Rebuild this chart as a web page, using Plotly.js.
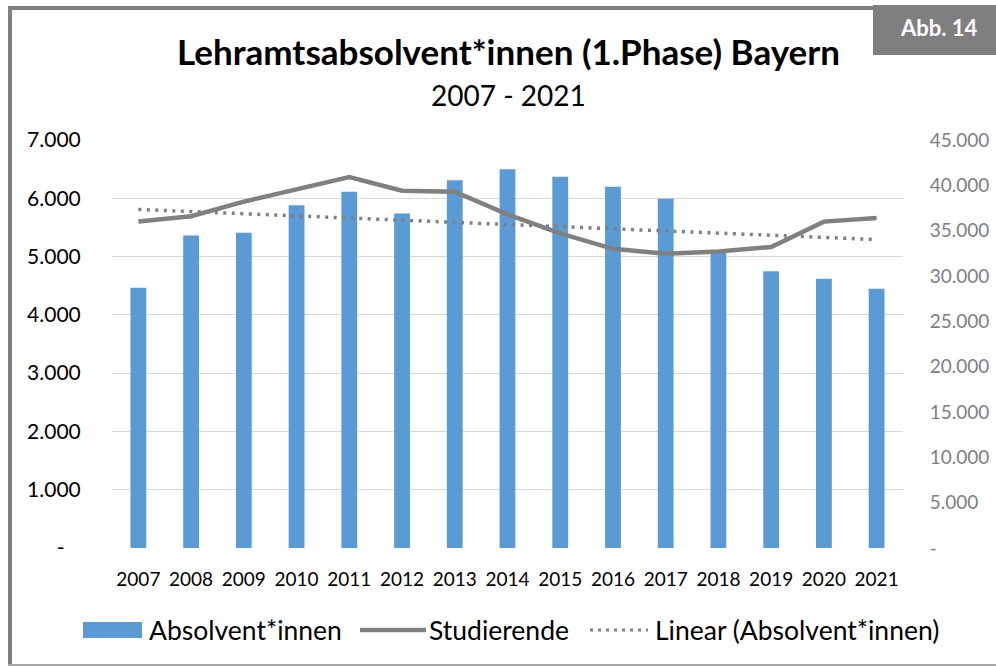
<!DOCTYPE html>
<html>
<head>
<meta charset="utf-8">
<script src="https://cdn.plot.ly/plotly-3.0.1.min.js"></script>
<style>
  html, body { margin: 0; padding: 0; background: #ffffff; }
  #chart { width: 996px; height: 667px; }
</style>
</head>
<body>
<div id="chart"></div>
<script>
// ---------- DATA ----------
const years = ['2007','2008','2009','2010','2011','2012','2013','2014','2015','2016','2017','2018','2019','2020','2021'];
const absolventen = [4465, 5360, 5410, 5880, 6110, 5740, 6310, 6500, 6370, 6200, 5990, 5100, 4750, 4620, 4450];
const studierende = [36000, 36600, 38200, 39600, 40900, 39400, 39300, 36800, 34700, 33000, 32450, 32700, 33200, 36000, 36400];
const leftTickVals = [0, 1000, 2000, 3000, 4000, 5000, 6000, 7000];
const leftTickText = ['-\u00a0\u00a0\u00a0', '1.000', '2.000', '3.000', '4.000', '5.000', '6.000', '7.000'];
const rightTickVals = [0, 5000, 10000, 15000, 20000, 25000, 30000, 35000, 40000, 45000];
const rightTickText = ['-', '5.000', '10.000', '15.000', '20.000', '25.000', '30.000', '35.000', '40.000', '45.000'];
const titleText = 'Lehramtsabsolvent*innen (1.Phase) Bayern';
const subtitleText = '2007 - 2021';
const badgeText = 'Abb. 14';
const legendNames = ['Absolvent*innen', 'Studierende', 'Linear (Absolvent*innen)'];

// ---------- linear trend (Excel-style least squares on the bar series) ----------
const n = absolventen.length;
const xs = absolventen.map((_, i) => i + 1);
const mx = xs.reduce((a, b) => a + b, 0) / n;
const my = absolventen.reduce((a, b) => a + b, 0) / n;
let sxy = 0, sxx = 0;
for (let i = 0; i < n; i++) { sxy += (xs[i] - mx) * (absolventen[i] - my); sxx += (xs[i] - mx) ** 2; }
const slope = sxy / sxx;
const trend = xs.map(x => my + slope * (x - mx));

// ---------- layout helpers ----------
const W = 996, H = 667;
const L = 112, R = 903, T = 140, B = 548;
const PX = x => (x - L) / (R - L);
const PY = y => (B - y) / (B - T);

const FONT = 'Lato, "Open Sans", sans-serif';
const BLUE = '#5b9bd5';
const GRAY = '#808080';

const traces = [
  {
    type: 'bar', x: years, y: absolventen, name: legendNames[0],
    marker: { color: BLUE }, yaxis: 'y', hoverinfo: 'x+y'
  },
  {
    type: 'scatter', mode: 'lines', x: years, y: studierende, name: legendNames[1],
    line: { color: GRAY, width: 4.5 }, yaxis: 'y2'
  },
  {
    type: 'scatter', mode: 'lines', x: years, y: trend, name: legendNames[2],
    line: { color: GRAY, width: 3.5, dash: '3px,5.5px' }, yaxis: 'y'
  }
];

const shapes = [
  // outer frame
  { type: 'line', xref: 'paper', yref: 'paper', x0: PX(10), x1: PX(10), y0: PY(6), y1: PY(666), line: { color: '#7f7f7f', width: 4 } },
  { type: 'line', xref: 'paper', yref: 'paper', x0: PX(8), x1: PX(998), y0: PY(8), y1: PY(8), line: { color: '#7f7f7f', width: 4 } },
  { type: 'line', xref: 'paper', yref: 'paper', x0: PX(8), x1: PX(998), y0: PY(665), y1: PY(665), line: { color: '#a6a6a6', width: 2 } },
  // badge box
  { type: 'rect', xref: 'paper', yref: 'paper', x0: PX(873), x1: PX(998), y0: PY(5), y1: PY(55), fillcolor: '#7f7f7f', line: { width: 0 } },
  // legend swatches
  { type: 'rect', xref: 'paper', yref: 'paper', x0: PX(83), x1: PX(142), y0: PY(622), y1: PY(638), fillcolor: BLUE, line: { width: 0 } },
  { type: 'line', xref: 'paper', yref: 'paper', x0: PX(360), x1: PX(426), y0: PY(630), y1: PY(630), line: { color: GRAY, width: 4.5 } },
  { type: 'line', xref: 'paper', yref: 'paper', x0: PX(590), x1: PX(648), y0: PY(630), y1: PY(630), line: { color: GRAY, width: 3, dash: '3px,5px' } }
];

const annotations = [
  { text: '<b>' + titleText + '</b>', xref: 'paper', yref: 'paper', x: PX(508), y: PY(51), xanchor: 'center', yanchor: 'middle', showarrow: false, font: { family: FONT, size: 35, color: '#000000' } },
  { text: subtitleText, xref: 'paper', yref: 'paper', x: PX(508), y: PY(95), xanchor: 'center', yanchor: 'middle', showarrow: false, font: { family: FONT, size: 28, color: '#000000' } },
  { text: '<b>' + badgeText + '</b>', xref: 'paper', yref: 'paper', x: PX(939), y: PY(27), xanchor: 'center', yanchor: 'middle', showarrow: false, font: { family: FONT, size: 22, color: '#ffffff' } },
  { text: legendNames[0], xref: 'paper', yref: 'paper', x: PX(147), y: PY(630), xanchor: 'left', yanchor: 'middle', showarrow: false, font: { family: FONT, size: 26.5, color: '#000000' } },
  { text: legendNames[1], xref: 'paper', yref: 'paper', x: PX(427), y: PY(630), xanchor: 'left', yanchor: 'middle', showarrow: false, font: { family: FONT, size: 26.5, color: '#000000' } },
  { text: legendNames[2], xref: 'paper', yref: 'paper', x: PX(653), y: PY(630), xanchor: 'left', yanchor: 'middle', showarrow: false, font: { family: FONT, size: 26.5, color: '#000000' } }
];

const layout = {
  width: W, height: H,
  margin: { l: L, r: W - R, t: T, b: H - B, pad: 0 },
  paper_bgcolor: '#ffffff', plot_bgcolor: '#ffffff',
  showlegend: false,
  bargap: 0.7,
  separators: ',.',
  font: { family: FONT, color: '#000000' },
  xaxis: {
    type: 'category', showgrid: false, zeroline: false, showline: false,
    ticks: 'outside', ticklen: 14, tickcolor: 'rgba(0,0,0,0)',
    tickfont: { family: FONT, size: 19, color: '#000000' }, fixedrange: true
  },
  yaxis: {
    range: [0, 7000], tickvals: leftTickVals, ticktext: leftTickText,
    showgrid: true, gridcolor: '#d9d9d9', gridwidth: 1, zeroline: false, showline: false,
    ticks: 'outside', ticklen: 26, tickcolor: 'rgba(0,0,0,0)',
    tickfont: { family: FONT, size: 21, color: '#000000' }, fixedrange: true
  },
  yaxis2: {
    range: [0, 45000], tickvals: rightTickVals, ticktext: rightTickText,
    overlaying: 'y', side: 'right', showgrid: false, zeroline: false, showline: false,
    ticks: 'outside', ticklen: 22, tickcolor: 'rgba(0,0,0,0)',
    tickfont: { family: FONT, size: 19, color: '#7f7f7f' }, fixedrange: true
  },
  shapes: shapes,
  annotations: annotations
};

Plotly.newPlot('chart', traces, layout, { displayModeBar: false, staticPlot: true });
</script>
</body>
</html>
